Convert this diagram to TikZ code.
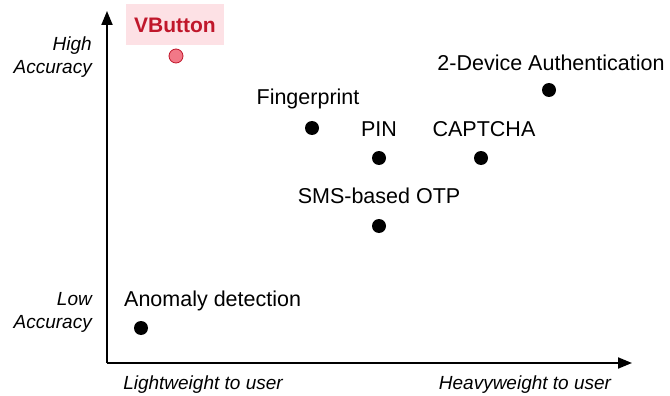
\documentclass[tikz,border=0pt]{standalone}
\usepackage{fontspec}
\setmainfont{Liberation Sans}
\usetikzlibrary{arrows.meta}
\definecolor{vred}{HTML}{C0172B}
\definecolor{vpink}{HTML}{FDE1E5}
\definecolor{vdot}{HTML}{F27887}
\tikzset{
  axis/.style={line width=2pt, -{Triangle[length=14pt,width=11pt]}},
  pt/.style={circle, fill=black, inner sep=0pt, minimum size=14pt},
  lbl/.style={font=\fontsize{21.5}{25}\selectfont, inner sep=0pt},
  axlbl/.style={font=\fontsize{19}{23}\selectfont\itshape, inner sep=0pt, align=right},
}
\begin{document}
\begin{tikzpicture}[x=1pt, y=-1pt]
\useasboundingbox (0,0) rectangle (670,396);
% axes
\coordinate (o) at (107,363);
\coordinate (ytip) at (107,11);
\coordinate (xtip) at (632,363);
\draw[axis] (o) -- (ytip);
\draw[axis] (o) -- (xtip);
% axis labels
\node[axlbl, anchor=east] (hi) at (92,57) {High\\Accuracy};
\node[axlbl, anchor=east] (lo) at (92,312) {Low\\Accuracy};
\node[axlbl] (lw) at (203,385) {Lightweight to user};
\node[axlbl] (hw) at (525,385) {Heavyweight to user};
% VButton
\node[fill=vpink, text=vred, font=\fontsize{21}{24}\bfseries, minimum width=98pt, minimum height=41pt, inner sep=0pt] (vb) at (175,25) {VButton};
\node[circle, fill=vdot, draw=vred, line width=0.8pt, inner sep=0pt, minimum size=14pt] (vbd) at (176,56) {};
% methods
\node[lbl, anchor=west] (an) at (124,301) {Anomaly detection};
\node[pt] (and) at (141,328) {};
\node[lbl] (fp) at (308,99) {Fingerprint};
\node[pt] (fpd) at (312,128) {};
\node[lbl] (pin) at (379,129) {PIN};
\node[pt] (pind) at (379,158) {};
\node[lbl] (cap) at (484,129) {CAPTCHA};
\node[pt] (capd) at (481,158) {};
\node[lbl] (two) at (551,63) {2-Device Authentication};
\node[pt] (twod) at (549,90) {};
\node[lbl] (sms) at (379,196) {SMS-based OTP};
\node[pt] (smsd) at (379,226) {};
\end{tikzpicture}
\end{document}
